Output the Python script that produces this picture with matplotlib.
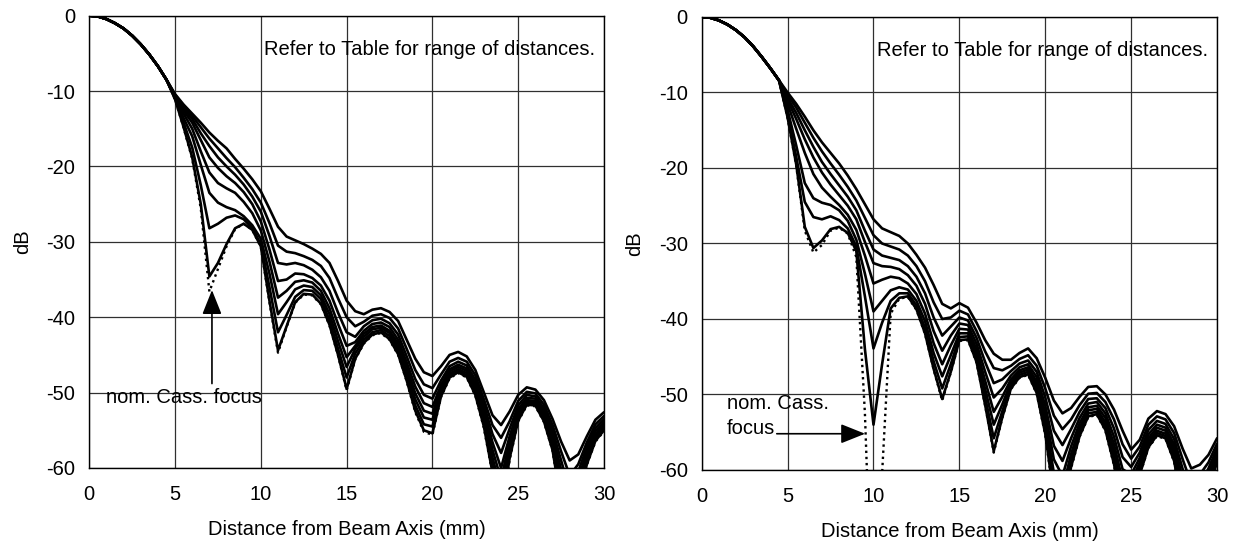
import numpy as np
import matplotlib
matplotlib.use("Agg")
import matplotlib.pyplot as plt

plt.rcParams['font.family'] = ['Liberation Sans', 'DejaVu Sans']
plt.rcParams['axes.unicode_minus'] = False

# ---------------------------------------------------------------- data
# radial distance grid (mm): shared main lobe 0..4.5, individual tails 5..30
lobe_x = np.arange(0.0, 5.0, 0.5)
tail_x = np.arange(5.0, 30.25, 0.5)

# ---- left panel
left_lobe = [0.0, -0.1, -0.45, -1.0, -1.7, -2.65, -3.8, -5.15, -6.7, -8.5]

left_curves = [
    [-10.4, -11.8, -13.0, -14.2, -15.5, -16.6, -17.6, -19.0, -20.3, -21.7,
     -23.3, -25.6, -28.0, -29.3, -29.8, -30.3, -30.9, -31.6, -32.8, -35.2,
     -37.8, -39.2, -39.6, -39.0, -38.8, -39.3, -40.5, -43.0, -45.5, -47.3,
     -47.8, -46.5, -45.0, -44.6, -45.2, -47.0, -50.0, -53.0, -54.3, -52.5,
     -50.3, -49.3, -49.6, -51.0, -53.5, -56.5, -59.0, -58.2, -55.8, -53.6,
     -52.6],
    [-10.5, -12.0, -13.3, -14.8, -16.3, -17.6, -18.9, -20.1, -21.5, -23.0,
     -24.8, -27.5, -30.5, -31.3, -31.5, -31.9, -32.4, -33.2, -34.8, -37.5,
     -40.0, -41.2, -40.6, -39.8, -39.6, -40.1, -41.5, -44.2, -47.0, -48.9,
     -49.4, -47.6, -45.9, -45.4, -45.9, -47.7, -50.9, -54.3, -56.0, -53.8,
     -51.1, -49.9, -50.1, -51.6, -54.3, -57.8, -61.0, -59.5, -56.6, -54.2,
     -53.1],
    [-10.6, -12.3, -13.7, -15.6, -17.3, -18.8, -20.0, -21.1, -22.4, -24.0,
     -26.0, -29.2, -32.8, -33.0, -32.8, -33.1, -33.7, -34.7, -36.5, -39.4,
     -42.0, -42.6, -41.2, -40.4, -40.2, -40.8, -42.3, -45.2, -48.2, -50.3,
     -50.8, -48.4, -46.5, -45.9, -46.4, -48.3, -51.6, -55.5, -58.0, -54.8,
     -51.7, -50.3, -50.5, -52.1, -55.0, -59.0, -63.0, -60.5, -57.2, -54.7,
     -53.5],
    [-10.7, -12.6, -14.2, -16.5, -18.8, -20.2, -21.3, -22.2, -23.4, -25.0,
     -27.3, -31.0, -35.2, -35.0, -34.2, -34.3, -34.8, -35.8, -37.8, -40.9,
     -43.8, -43.3, -41.8, -40.9, -40.7, -41.3, -43.0, -46.0, -49.2, -51.4,
     -51.9, -49.0, -46.9, -46.3, -46.8, -48.8, -52.3, -56.6, -60.0, -55.8,
     -52.2, -50.7, -50.8, -52.5, -55.6, -60.2, -65.0, -61.5, -57.8, -55.1,
     -53.9],
    [-10.8, -13.0, -15.0, -18.0, -20.8, -22.2, -22.9, -23.5, -24.7, -26.2,
     -28.5, -32.6, -37.4, -36.5, -35.3, -35.1, -35.4, -36.5, -38.8, -42.2,
     -45.3, -43.8, -42.2, -41.3, -41.1, -41.8, -43.5, -46.7, -50.1, -52.4,
     -52.8, -49.4, -47.2, -46.6, -47.1, -49.2, -52.9, -57.6, -61.5, -56.5,
     -52.6, -51.0, -51.1, -52.9, -56.1, -61.3, -66.5, -62.3, -58.3, -55.5,
     -54.2],
    [-10.9, -13.6, -16.0, -19.8, -23.5, -24.8, -25.4, -25.8, -26.6, -27.8,
     -29.6, -34.2, -39.6, -38.0, -36.3, -35.8, -36.0, -37.1, -39.6, -43.2,
     -46.6, -44.2, -42.6, -41.6, -41.4, -42.1, -44.0, -47.3, -50.9, -53.3,
     -53.6, -49.8, -47.5, -46.9, -47.4, -49.6, -53.5, -58.6, -63.0, -57.3,
     -53.0, -51.2, -51.3, -53.2, -56.6, -62.4, -68.0, -63.0, -58.7, -55.8,
     -54.5],
    [-11.0, -14.2, -17.5, -22.5, -28.2, -27.6, -26.8, -26.5, -27.0, -28.2,
     -30.3, -36.0, -42.0, -39.7, -37.3, -36.4, -36.5, -37.6, -40.4, -44.2,
     -48.0, -44.8, -43.0, -42.0, -41.7, -42.5, -44.4, -47.9, -51.7, -54.2,
     -54.5, -50.2, -47.8, -47.1, -47.7, -50.0, -54.0, -59.6, -64.5, -58.0,
     -53.4, -51.4, -51.5, -53.5, -57.1, -63.5, -69.0, -63.7, -59.1, -56.1,
     -54.8],
    [-11.1, -14.8, -18.8, -25.0, -34.6, -32.8, -30.3, -28.2, -27.6, -28.4,
     -30.6, -37.8, -44.4, -41.2, -38.0, -36.9, -37.0, -38.2, -41.0, -45.0,
     -49.5, -45.5, -43.4, -42.3, -42.0, -42.9, -44.9, -48.4, -52.4, -55.0,
     -55.4, -50.5, -48.0, -47.3, -47.9, -50.3, -54.5, -60.6, -66.0, -58.7,
     -53.7, -51.6, -51.7, -53.8, -57.6, -64.6, -70.0, -64.3, -59.5, -56.4,
     -55.0],
]

left_focus = [
    -11.1, -14.9, -19.0, -25.6, -36.6, -33.6, -30.6, -28.3, -27.6, -28.4,
    -30.7, -38.0, -44.7, -41.3, -38.1, -37.0, -37.1, -38.3, -41.1, -45.1,
    -49.7, -45.6, -43.5, -42.4, -42.1, -43.0, -45.0, -48.5, -52.6, -55.2,
    -55.6, -50.6, -48.1, -47.4, -48.0, -50.4, -54.7, -60.8, -66.5, -58.9,
    -53.8, -51.7, -51.8, -53.9, -57.7, -64.8, -70.5, -64.5, -59.6, -56.5,
    -55.1]

# ---- right panel
right_lobe = [0.0, -0.1, -0.45, -1.0, -1.75, -2.7, -3.9, -5.3, -6.8, -8.4]

right_curves = [
    [-10.0, -11.5, -13.2, -15.0, -16.6, -18.0, -19.4, -21.0, -22.8, -24.8,
     -26.8, -28.0, -28.5, -29.0, -30.0, -31.5, -33.2, -35.5, -38.0, -38.6,
     -37.9, -38.5, -40.5, -42.8, -44.6, -45.4, -45.4, -44.5, -43.9, -45.2,
     -47.8, -50.8, -52.5, -51.8, -50.3, -49.0, -48.9, -50.0, -52.0, -54.8,
     -57.3, -56.0, -53.2, -52.2, -52.6, -54.2, -57.2, -59.8, -59.3, -58.0,
     -55.8],
    [-10.3, -12.0, -14.0, -16.0, -17.8, -19.4, -20.9, -22.5, -24.3, -26.6,
     -28.9, -30.0, -30.4, -30.8, -31.6, -33.0, -35.0, -37.8, -40.0, -39.8,
     -38.9, -39.4, -41.6, -44.3, -46.5, -46.8, -46.2, -45.3, -44.8, -46.2,
     -49.2, -52.8, -54.6, -53.3, -51.4, -49.9, -49.8, -51.0, -53.3, -56.6,
     -58.5, -56.9, -54.0, -52.9, -53.3, -55.1, -58.6, -61.8, -60.6, -59.0,
     -56.5],
    [-10.7, -12.7, -15.0, -17.2, -19.2, -20.8, -22.3, -23.8, -25.6, -28.3,
     -30.8, -31.6, -31.9, -32.2, -33.0, -34.4, -36.6, -39.8, -42.2, -41.0,
     -39.8, -40.2, -42.5, -45.7, -48.5, -48.0, -46.9, -45.9, -45.5, -47.0,
     -50.4, -54.8, -56.7, -54.6, -52.3, -50.6, -50.5, -51.8, -54.5, -58.3,
     -59.6, -57.7, -54.7, -53.5, -53.9, -55.9, -59.9, -63.7, -61.8, -59.8,
     -57.1],
    [-11.0, -13.5, -16.2, -18.6, -20.6, -22.2, -23.6, -25.0, -26.8, -29.8,
     -32.6, -33.0, -33.1, -33.4, -34.2, -35.6, -38.0, -41.6, -44.2, -42.2,
     -40.6, -40.8, -43.3, -47.0, -50.4, -49.2, -47.5, -46.4, -46.0, -47.7,
     -51.5, -56.8, -58.8, -55.8, -53.1, -51.2, -51.0, -52.5, -55.6, -59.9,
     -60.6, -58.4, -55.3, -54.0, -54.4, -56.6, -61.1, -65.5, -62.8, -60.5,
     -57.6],
    [-11.5, -14.8, -18.0, -20.8, -22.6, -23.8, -24.9, -26.2, -28.2, -31.6,
     -35.3, -34.8, -34.4, -34.6, -35.3, -36.7, -39.3, -43.2, -46.0, -43.5,
     -41.3, -41.4, -44.0, -48.2, -52.3, -50.3, -48.0, -46.8, -46.4, -48.3,
     -52.5, -58.6, -60.8, -56.9, -53.8, -51.7, -51.5, -53.1, -56.6, -61.4,
     -61.5, -59.0, -55.8, -54.4, -54.8, -57.2, -62.2, -67.0, -63.7, -61.1,
     -58.0],
    [-12.3, -17.0, -22.0, -24.0, -24.6, -24.9, -25.6, -27.0, -29.5, -34.0,
     -39.0, -37.6, -36.2, -35.8, -36.1, -37.6, -40.3, -44.5, -47.6, -44.8,
     -41.9, -41.9, -44.6, -49.3, -54.0, -51.3, -48.4, -47.1, -46.7, -48.8,
     -53.4, -60.4, -62.6, -57.9, -54.4, -52.1, -51.9, -53.7, -57.5, -62.8,
     -62.4, -59.6, -56.2, -54.8, -55.2, -57.8, -63.2, -68.0, -64.5, -61.6,
     -58.4],
    [-13.0, -18.5, -24.5, -26.5, -26.8, -26.4, -26.9, -28.0, -30.4, -37.0,
     -43.9, -40.5, -37.6, -36.6, -36.6, -38.2, -41.2, -45.6, -49.2, -46.0,
     -42.4, -42.3, -45.2, -50.4, -55.8, -52.2, -48.8, -47.4, -47.0, -49.3,
     -54.3, -62.0, -64.3, -58.8, -55.0, -52.5, -52.3, -54.2, -58.4, -64.2,
     -63.2, -60.1, -56.6, -55.1, -55.5, -58.3, -64.2, -69.0, -65.2, -62.1,
     -58.7],
    [-13.3, -19.5, -27.8, -30.6, -29.6, -28.1, -27.8, -28.6, -31.0, -44.0,
     -54.0, -46.0, -38.6, -37.2, -37.0, -38.7, -41.9, -46.6, -50.6, -47.0,
     -42.8, -42.7, -45.7, -51.4, -57.5, -53.0, -49.2, -47.7, -47.3, -49.8,
     -55.2, -63.5, -66.0, -59.6, -55.5, -52.9, -52.6, -54.7, -59.2, -65.5,
     -64.0, -60.6, -57.0, -55.4, -55.8, -58.8, -65.0, -70.0, -65.8, -62.5,
     -59.0],
]

right_focus = [
    -13.4, -19.7, -28.3, -31.2, -30.2, -28.3, -27.9, -28.7, -31.8, -52.5,
    -85.0, -60.5, -39.3, -37.3, -37.1, -38.8, -42.0, -46.7, -50.8, -47.1,
    -42.9, -42.8, -45.8, -51.5, -57.7, -53.1, -49.3, -47.8, -47.4, -49.9,
    -55.4, -63.7, -66.2, -59.8, -55.6, -53.0, -52.7, -54.8, -59.4, -65.7,
    -64.2, -60.7, -57.1, -55.5, -55.9, -58.9, -65.2, -70.2, -66.0, -62.6,
    -59.1]

x_ticks = [0, 5, 10, 15, 20, 25, 30]
y_ticks = [0, -10, -20, -30, -40, -50, -60]
note_text = "Refer to Table for range of distances."

# ---------------------------------------------------------------- figure
fig = plt.figure(figsize=(12.4, 5.5), dpi=100)
ax_l = fig.add_axes([0.0720, 0.1491, 0.4151, 0.8224])
ax_r = fig.add_axes([0.5659, 0.1455, 0.4156, 0.8236])

x_full = np.concatenate([lobe_x, tail_x])
FS = 14.5


def draw_panel(ax, lobe, curves, focus):
    for tail in curves:
        ax.plot(x_full, list(lobe) + list(tail), color='black', lw=1.9,
                solid_joinstyle='round', solid_capstyle='round', zorder=3)
    ax.plot(x_full, list(lobe) + list(focus), color='black', lw=1.7,
            linestyle=(0, (1.0, 1.6)), zorder=4)
    ax.set_xlim(0, 30)
    ax.set_ylim(-60, 0)
    ax.set_xticks(x_ticks)
    ax.set_yticks(y_ticks)
    ax.grid(True, color='#303030', lw=0.9)
    ax.set_axisbelow(True)
    ax.tick_params(length=0, labelsize=FS)
    ax.tick_params(axis='x', pad=12)
    ax.tick_params(axis='y', pad=10)
    for sp in ax.spines.values():
        sp.set_color('black')
        sp.set_linewidth(1.0)
    ax.set_xlabel('Distance from Beam Axis (mm)', fontsize=FS)
    ax.xaxis.set_label_coords(0.5, -0.115)
    ax.set_ylabel('dB', fontsize=FS)
    ax.yaxis.set_label_coords(-0.112, 0.5)
    ax.text(10.2, -4.5, note_text, fontsize=FS, ha='left', va='center')


draw_panel(ax_l, left_lobe, left_curves, left_focus)
draw_panel(ax_r, right_lobe, right_curves, right_focus)

arrow = dict(arrowstyle='-|>,head_length=0.75,head_width=0.3',
             mutation_scale=20, color='black', lw=1.2,
             shrinkA=0, shrinkB=0)

# left annotation: vertical arrow up to the first null
ax_l.text(1.0, -50.7, 'nom. Cass. focus', fontsize=FS, ha='left', va='center')
ax_l.annotate('', xy=(7.15, -36.4), xytext=(7.15, -48.8), arrowprops=arrow)

# right annotation: horizontal arrow to the focus null
ax_r.text(1.46, -51.2, 'nom. Cass.', fontsize=FS, ha='left', va='center')
ax_r.text(1.46, -54.5, 'focus', fontsize=FS, ha='left', va='center')
ax_r.annotate('', xy=(9.51, -55.2), xytext=(4.37, -55.2), arrowprops=arrow)

fig.savefig('out.png', dpi=100, facecolor='white')
